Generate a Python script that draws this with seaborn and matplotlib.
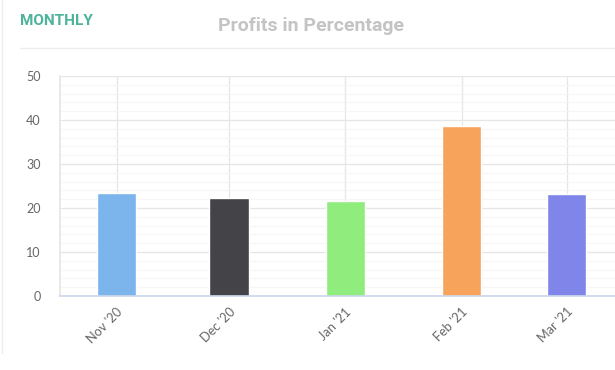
import pandas as pd
import matplotlib
matplotlib.use("Agg")
import matplotlib.pyplot as plt
import matplotlib.dates as mdates
from matplotlib.lines import Line2D
from matplotlib.ticker import MultipleLocator
import seaborn as sns

# dados
meses = ['2020-11-01', '2020-12-01', '2021-01-01', '2021-02-01', '2021-03-01']
rotulos = ["Nov '20", "Dec '20", "Jan '21", "Feb '21", "Mar '21"]
lucros = [23.4, 22.3, 21.6, 38.7, 23.2]
cores = ['#7cb5ec', '#434348', '#90ed7d', '#f7a35c', '#8085e9']

df = pd.DataFrame({'mes': pd.to_datetime(meses), 'lucro': lucros, 'rotulo': rotulos})
df['x'] = mdates.date2num(df['mes'])

sns.set_theme(style="white")
plt.rcParams['font.family'] = ['Lato', 'DejaVu Sans']

fig = plt.figure(figsize=(6.15, 3.7), dpi=100)
ax = fig.add_axes([60 / 615, 74 / 370, 555 / 615, 220 / 370])

sns.barplot(data=df, x='x', y='lucro', hue='rotulo', palette=cores,
            native_scale=True, width=0.372, legend=False, ax=ax, saturation=1)

# eixo de datas com espaco igual ao do original
ax.set_xlim(df['x'].iloc[0] - 15.07, df['x'].iloc[-1] + 12.93)
ax.set_ylim(0, 50)
ax.set_xticks(df['x'])
ax.set_xticklabels(rotulos, rotation=45, ha='right', rotation_mode='anchor',
                   fontsize=9.2, color='#666666')
ax.yaxis.set_major_locator(MultipleLocator(10))
ax.yaxis.set_minor_locator(MultipleLocator(2))
ax.tick_params(axis='y', labelsize=9, labelcolor='#666666', pad=14, length=0)
ax.tick_params(axis='x', pad=7, length=0)
ax.tick_params(which='minor', length=0)

ax.grid(True, which='major', color='#e6e6e6', linewidth=0.9)
ax.grid(True, which='minor', axis='y', color='#f6f6f6', linewidth=0.8)
ax.set_axisbelow(True)

for lado in ['top', 'right']:
    ax.spines[lado].set_visible(False)
ax.spines['left'].set_color('#e6e6e6')
ax.spines['bottom'].set_color('#ccd6eb')
ax.spines['bottom'].set_linewidth(1.2)
ax.set_xlabel('')
ax.set_ylabel('')

# cabecalho
fig.text(20 / 615, 1 - 21 / 370, 'MONTHLY', fontsize=11, fontweight='bold',
         color='#4db39b', va='center', ha='left',
         family=['Roboto', 'DejaVu Sans'])
fig.text(311 / 615, 1 - 26 / 370, 'Profits in Percentage', fontsize=14,
         fontweight='bold', color='#c4c4c4', va='center', ha='center',
         family=['Roboto', 'DejaVu Sans'])
fig.add_artist(Line2D([20 / 615, 1], [1 - 48 / 370] * 2, color='#eeeeee', linewidth=1))
fig.add_artist(Line2D([1.5 / 615] * 2, [1 - 353 / 370, 1], color='#eeeeee', linewidth=1))

fig.savefig('out.png', dpi=100)
